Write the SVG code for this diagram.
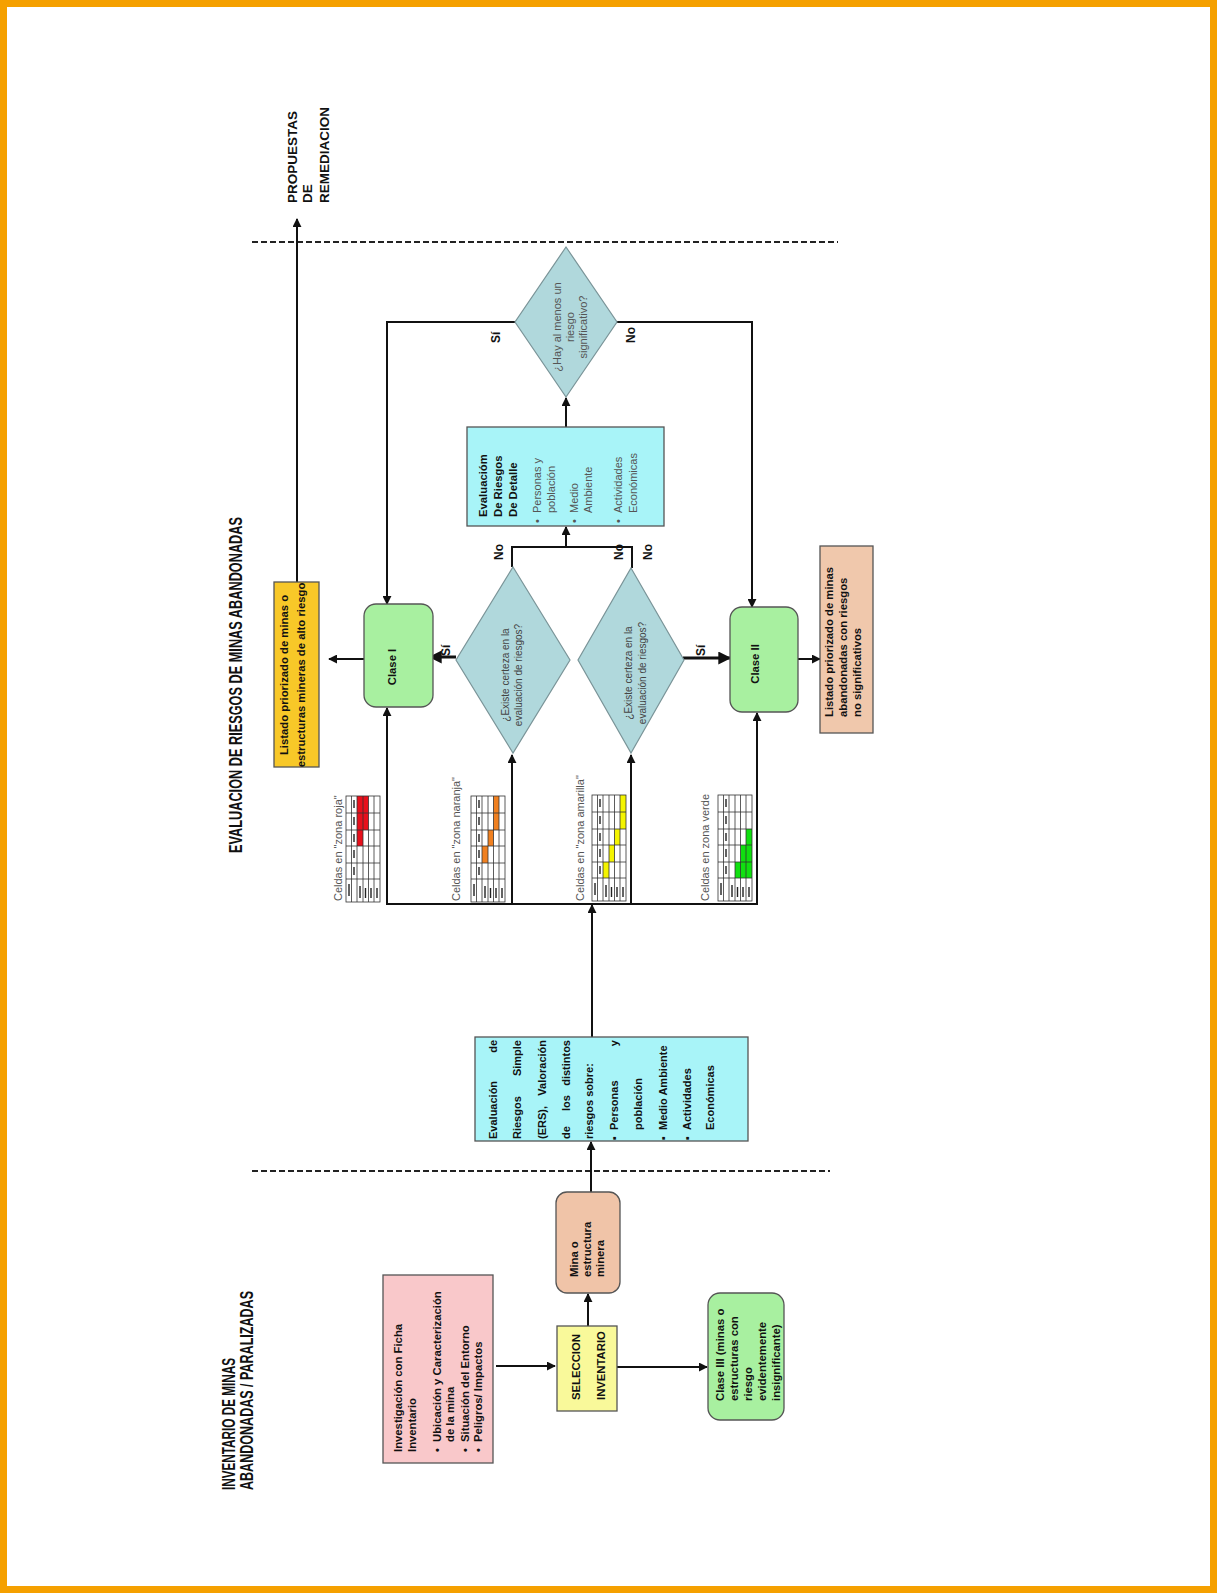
<svg xmlns="http://www.w3.org/2000/svg" xmlns:xlink="http://www.w3.org/1999/xlink" width="1217" height="1593" viewBox="0 0 1217 1593">
<style>
.t{font-family:"Liberation Sans",Arial,sans-serif;fill:#111}
.b{font-weight:bold;font-size:11.3px}
.g{font-size:11px;fill:#555}
.d{font-size:10px;fill:#444}
.lb{font-weight:bold;font-size:12px}
.ti{font-weight:bold;font-size:18px}
.box{stroke:#555;stroke-width:1.3}
.dia{fill:#B0D8DC;stroke:#7A9498;stroke-width:1.2}
.ln{fill:none;stroke:#111;stroke-width:2}
.lt{fill:none;stroke:#111;stroke-width:3}
.ar{marker-end:url(#ah)}
.arb{marker-end:url(#ahb)}
.dash{fill:none;stroke:#222;stroke-width:2;stroke-dasharray:6 3}
.gl{fill:none;stroke:#333;stroke-width:0.8}
.mk{stroke:#222;stroke-width:1.4}
</style>
<defs>
<marker id="ah" viewBox="0 0 10 10" refX="9" refY="5" markerWidth="9" markerHeight="9" markerUnits="userSpaceOnUse" orient="auto"><path d="M0,0 L10,5 L0,10 z" fill="#111"/></marker>
<marker id="ahb" viewBox="0 0 10 10" refX="9" refY="5" markerWidth="14" markerHeight="13" markerUnits="userSpaceOnUse" orient="auto"><path d="M0,0 L10,5 L0,10 z" fill="#111"/></marker>
<g id="grid">
<rect x="0" y="0" width="34" height="106" class="gl"/>
<path class="gl" d="M5.5,0V106M11,0V106M17,0V106M22.5,0V106M28,0V106M0,17H34M0,34H34M0,50H34M0,67H34M0,83H34"/>
<path class="mk" d="M8,4V12M8,21V29M8,38V46M8,54V62M8,71V79M3,88V100M14,90V102M19.5,92V102M25,92V102M31,92V102"/>
</g>
</defs>
<rect x="3.5" y="3.5" width="1210" height="1586" fill="#fff" stroke="#F5A000" stroke-width="7"/>

<g id="titles">
<text class="t ti" x="242" y="853" transform="rotate(-90 242 853)" textLength="336" lengthAdjust="spacingAndGlyphs">EVALUACION DE RIESGOS DE MINAS ABANDONADAS</text>
<text class="t ti" x="235" y="1490" transform="rotate(-90 235 1490)" textLength="132" lengthAdjust="spacingAndGlyphs">INVENTARIO DE MINAS</text>
<text class="t ti" x="253" y="1490" transform="rotate(-90 253 1490)" textLength="199" lengthAdjust="spacingAndGlyphs">ABANDONADAS / PARALIZADAS</text>
<text class="t b" style="font-size:13.5px" x="297" y="203" transform="rotate(-90 297 203)">PROPUESTAS</text>
<text class="t b" style="font-size:13.5px" x="312" y="203" transform="rotate(-90 312 203)">DE</text>
<text class="t b" style="font-size:13.5px" x="329" y="203" transform="rotate(-90 329 203)">REMEDIACION</text>
</g>

<g id="dividers">
<line class="dash" x1="252" y1="242" x2="838" y2="242"/>
<line class="dash" x1="252" y1="1171" x2="830" y2="1171"/>
</g>

<g id="connectors">
<line class="ln ar" x1="496" y1="1366" x2="555" y2="1366"/>
<line class="ln ar" x1="588" y1="1326" x2="588" y2="1294"/>
<line class="ln ar" x1="617" y1="1367" x2="707" y2="1367"/>
<line class="ln ar" x1="591" y1="1192" x2="591" y2="1142"/>
<line class="ln ar" x1="592" y1="1037" x2="592" y2="905"/>
<line class="ln" x1="386" y1="904" x2="758" y2="904"/>
<line class="ln ar" x1="387" y1="904" x2="387" y2="708"/>
<line class="ln ar" x1="512" y1="904" x2="512" y2="755"/>
<line class="ln ar" x1="631" y1="904" x2="631" y2="755"/>
<line class="ln ar" x1="757" y1="904" x2="757" y2="713"/>
<line class="lt arb" x1="456" y1="657" x2="430" y2="657"/>
<line class="lt arb" x1="683" y1="658" x2="730" y2="658"/>
<path class="ln" d="M512,567V547H632V568"/>
<line class="ln ar" x1="566" y1="547" x2="566" y2="527"/>
<line class="ln ar" x1="566" y1="427" x2="566" y2="398"/>
<path class="ln ar" d="M515,322H387V604"/>
<path class="ln ar" d="M616,322H752V607"/>
<line class="ln ar" x1="367" y1="659" x2="329" y2="659"/>
<line class="ln ar" x1="798" y1="659" x2="820" y2="659"/>
<line class="ln ar" x1="297" y1="582" x2="297" y2="219"/>
</g>

<g id="labels">
<text class="t lb" x="450" y="656" transform="rotate(-90 450 656)">Sí</text>
<text class="t lb" x="705" y="656" transform="rotate(-90 705 656)">Sí</text>
<text class="t lb" x="500" y="343" transform="rotate(-90 500 343)">Sí</text>
<text class="t lb" x="635" y="343" transform="rotate(-90 635 343)">No</text>
<text class="t lb" x="503" y="560" transform="rotate(-90 503 560)">No</text>
<text class="t lb" x="623" y="560" transform="rotate(-90 623 560)">No</text>
<text class="t lb" x="652" y="560" transform="rotate(-90 652 560)">No</text>
</g>

<g id="inventario-ficha">
<rect class="box" x="383" y="1275" width="110" height="188" fill="#F9C8CA"/>
<text class="t b" x="402" y="1452" transform="rotate(-90 402 1452)">Investigación con Ficha</text>
<text class="t b" x="416" y="1452" transform="rotate(-90 416 1452)">Inventario</text>
<text class="t b" x="441" y="1452" transform="rotate(-90 441 1452)">•</text>
<text class="t b" x="441" y="1442" transform="rotate(-90 441 1442)">Ubicación y Caracterización</text>
<text class="t b" x="454" y="1442" transform="rotate(-90 454 1442)">de la mina</text>
<text class="t b" x="469" y="1452" transform="rotate(-90 469 1452)">•</text>
<text class="t b" x="469" y="1442" transform="rotate(-90 469 1442)">Situación del Entorno</text>
<text class="t b" x="482" y="1452" transform="rotate(-90 482 1452)">•</text>
<text class="t b" x="482" y="1442" transform="rotate(-90 482 1442)">Peligros/ Impactos</text>
</g>

<g id="seleccion">
<rect class="box" x="557" y="1326" width="60" height="85" fill="#F9F99A"/>
<text class="t b" x="580" y="1400" transform="rotate(-90 580 1400)">SELECCION</text>
<text class="t b" x="605" y="1400" transform="rotate(-90 605 1400)">INVENTARIO</text>
</g>

<g id="mina">
<rect class="box" x="556" y="1192" width="64" height="101" rx="11" fill="#F0C4A8"/>
<text class="t b" x="578" y="1277" transform="rotate(-90 578 1277)">Mina o</text>
<text class="t b" x="591" y="1277" transform="rotate(-90 591 1277)">estructura</text>
<text class="t b" x="604" y="1277" transform="rotate(-90 604 1277)">minera</text>
</g>

<g id="clase3">
<rect class="box" x="708" y="1293" width="76" height="127" rx="12" fill="#A8F0A0"/>
<text class="t b" x="724" y="1401" transform="rotate(-90 724 1401)">Clase III (minas o</text>
<text class="t b" x="738" y="1401" transform="rotate(-90 738 1401)">estructuras con</text>
<text class="t b" x="752" y="1401" transform="rotate(-90 752 1401)">riesgo</text>
<text class="t b" x="766" y="1401" transform="rotate(-90 766 1401)">evidentemente</text>
<text class="t b" x="780" y="1401" transform="rotate(-90 780 1401)">insignificante)</text>
</g>

<g id="ers">
<rect class="box" x="475" y="1037" width="273" height="104" fill="#A8F4F8"/>
<g class="t b" style="font-size:11px">
<text x="497" y="1139" transform="rotate(-90 497 1139)">Evaluación</text>
<text x="497" y="1040" transform="rotate(-90 497 1040)" text-anchor="end">de</text>
<text x="521" y="1139" transform="rotate(-90 521 1139)">Riesgos</text>
<text x="521" y="1040" transform="rotate(-90 521 1040)" text-anchor="end">Simple</text>
<text x="546" y="1139" transform="rotate(-90 546 1139)">(ERS),</text>
<text x="546" y="1040" transform="rotate(-90 546 1040)" text-anchor="end">Valoración</text>
<text x="570" y="1139" transform="rotate(-90 570 1139)">de</text>
<text x="570" y="1103" transform="rotate(-90 570 1103)" text-anchor="middle">los</text>
<text x="570" y="1040" transform="rotate(-90 570 1040)" text-anchor="end">distintos</text>
<text x="593" y="1139" transform="rotate(-90 593 1139)">riesgos sobre:</text>
<text x="618" y="1140" transform="rotate(-90 618 1140)">▪</text>
<text x="618" y="1130" transform="rotate(-90 618 1130)">Personas</text>
<text x="618" y="1040" transform="rotate(-90 618 1040)" text-anchor="end">y</text>
<text x="642" y="1130" transform="rotate(-90 642 1130)">población</text>
<text x="667" y="1140" transform="rotate(-90 667 1140)">▪</text>
<text x="667" y="1130" transform="rotate(-90 667 1130)">Medio Ambiente</text>
<text x="691" y="1140" transform="rotate(-90 691 1140)">▪</text>
<text x="691" y="1130" transform="rotate(-90 691 1130)">Actividades</text>
<text x="714" y="1130" transform="rotate(-90 714 1130)">Económicas</text>
</g>
</g>

<g id="matrices">
<g id="m-roja">
<rect x="346" y="796" width="34" height="106" fill="#fff"/>
<path fill="#E8101C" d="M357,796h11.5v34h-11.5zM357,830h6v16h-6z"/>
<use xlink:href="#grid" x="346" y="796"/>
<text class="t g" x="342" y="901" transform="rotate(-90 342 901)">Celdas en "zona roja"</text>
</g>
<g id="m-naranja">
<rect x="471" y="796" width="34" height="106" fill="#fff"/>
<path fill="#F08020" d="M482,846h6v17h-6zM488,830h5.5v16h-5.5zM493.5,796h5.5v34h-5.5z"/>
<use xlink:href="#grid" x="471" y="796"/>
<text class="t g" x="460" y="901" transform="rotate(-90 460 901)">Celdas en "zona naranja"</text>
</g>
<g id="m-amarilla">
<rect x="592" y="795" width="34" height="106" fill="#fff"/>
<path fill="#F4F400" d="M603,862h6v16h-6zM609,845h5.5v17h-5.5zM614.5,829h5.5v16h-5.5zM620,795h6v34h-6z"/>
<use xlink:href="#grid" x="592" y="795"/>
<text class="t g" x="584" y="901" transform="rotate(-90 584 901)">Celdas en "zona amarilla"</text>
</g>
<g id="m-verde">
<rect x="718" y="795" width="34" height="106" fill="#fff"/>
<path fill="#10E010" d="M735,862h5.5v16h-5.5zM740.5,845h5.5v33h-5.5zM746,829h6v49h-6z"/>
<use xlink:href="#grid" x="718" y="795"/>
<text class="t g" x="709" y="901" transform="rotate(-90 709 901)">Celdas en zona verde</text>
</g>
</g>

<g id="decision1">
<polygon class="dia" points="513,567 570,660 513,753 456,660"/>
<text class="t d" x="509" y="675" transform="rotate(-90 509 675)" text-anchor="middle">¿Existe certeza en la</text>
<text class="t d" x="522" y="675" transform="rotate(-90 522 675)" text-anchor="middle">evaluación de riesgos?</text>
</g>

<g id="decision2">
<polygon class="dia" points="631,568 684,660 631,753 578,660"/>
<text class="t d" x="632" y="673" transform="rotate(-90 632 673)" text-anchor="middle">¿Existe certeza en la</text>
<text class="t d" x="646" y="673" transform="rotate(-90 646 673)" text-anchor="middle">evaluación de riesgos?</text>
</g>

<g id="clase1">
<rect class="box" x="364" y="604" width="69" height="103" rx="12" fill="#A8F0A0"/>
<text class="t b" x="396" y="667" transform="rotate(-90 396 667)" text-anchor="middle">Clase I</text>
</g>

<g id="clase2">
<rect class="box" x="730" y="607" width="68" height="105" rx="12" fill="#A8F0A0"/>
<text class="t b" x="759" y="664" transform="rotate(-90 759 664)" text-anchor="middle">Clase II</text>
</g>

<g id="listado-alto">
<rect class="box" x="274" y="582" width="45" height="185" fill="#F8C828"/>
<text class="t b" x="288" y="675" transform="rotate(-90 288 675)" text-anchor="middle">Listado priorizado de minas o</text>
<text class="t b" x="305" y="675" transform="rotate(-90 305 675)" text-anchor="middle">estructuras mineras de alto riesgo</text>
</g>

<g id="listado-bajo">
<rect class="box" x="820" y="546" width="53" height="187" fill="#F0C8AC"/>
<text class="t b" x="833" y="717" transform="rotate(-90 833 717)">Listado priorizado de minas</text>
<text class="t b" x="847" y="717" transform="rotate(-90 847 717)">abandonadas con riesgos</text>
<text class="t b" x="861" y="717" transform="rotate(-90 861 717)">no significativos</text>
</g>

<g id="detalle">
<rect class="box" x="467" y="427" width="197" height="99" fill="#A8F4F8"/>
<text class="t b" x="487" y="517" transform="rotate(-90 487 517)">Evaluacióm</text>
<text class="t b" x="502" y="517" transform="rotate(-90 502 517)">De Riesgos</text>
<text class="t b" x="517" y="517" transform="rotate(-90 517 517)">De Detalle</text>
<g class="t g">
<text x="541" y="523" transform="rotate(-90 541 523)">•</text>
<text x="541" y="513" transform="rotate(-90 541 513)">Personas y</text>
<text x="555" y="513" transform="rotate(-90 555 513)">población</text>
<text x="578" y="523" transform="rotate(-90 578 523)">•</text>
<text x="578" y="513" transform="rotate(-90 578 513)">Medio</text>
<text x="592" y="513" transform="rotate(-90 592 513)">Ambiente</text>
<text x="622" y="523" transform="rotate(-90 622 523)">•</text>
<text x="622" y="513" transform="rotate(-90 622 513)">Actividades</text>
<text x="637" y="513" transform="rotate(-90 637 513)">Económicas</text>
</g>
</g>

<g id="decision3">
<polygon class="dia" points="566,247 617,322 566,397 515,322"/>
<text class="t g" x="561" y="327" transform="rotate(-90 561 327)" text-anchor="middle">¿Hay al menos un</text>
<text class="t g" x="574" y="327" transform="rotate(-90 574 327)" text-anchor="middle">riesgo</text>
<text class="t g" x="587" y="327" transform="rotate(-90 587 327)" text-anchor="middle">significativo?</text>
</g>
</svg>
